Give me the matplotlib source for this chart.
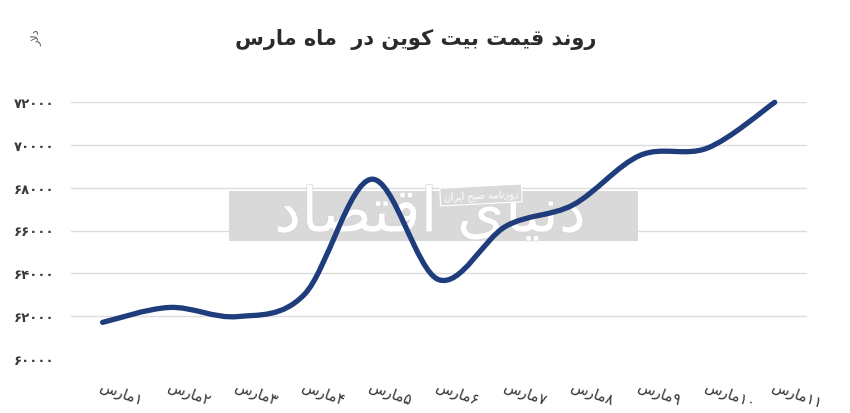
import re
import matplotlib
matplotlib.use('Agg')
import matplotlib.pyplot as plt
import matplotlib.patheffects as pe
from matplotlib.path import Path
from matplotlib.patches import PathPatch, Rectangle

# data
days = list(range(1, 12))
prices = [61700, 62400, 61970, 63000, 68400, 63700, 66200, 67200, 69520, 69860, 72000]
yticks = [60000, 62000, 64000, 66000, 68000, 70000, 72000]
title = 'روند قیمت بیت کوین در  ماه مارس'
unit = 'دلار'

# arabic letters have to be shaped by hand, matplotlib does not join them
FORMS = {
    'ا': ('\uFE8D', '\uFE8E', None, None),
    'ب': ('\uFE8F', '\uFE90', '\uFE91', '\uFE92'),
    'ت': ('\uFE95', '\uFE96', '\uFE97', '\uFE98'),
    'ح': ('\uFEA1', '\uFEA2', '\uFEA3', '\uFEA4'),
    'د': ('\uFEA9', '\uFEAA', None, None),
    'ر': ('\uFEAD', '\uFEAE', None, None),
    'ز': ('\uFEAF', '\uFEB0', None, None),
    'س': ('\uFEB1', '\uFEB2', '\uFEB3', '\uFEB4'),
    'ص': ('\uFEB9', '\uFEBA', '\uFEBB', '\uFEBC'),
    'ق': ('\uFED5', '\uFED6', '\uFED7', '\uFED8'),
    'ک': ('\uFB8E', '\uFB8F', '\uFB90', '\uFB91'),
    'ل': ('\uFEDD', '\uFEDE', '\uFEDF', '\uFEE0'),
    'م': ('\uFEE1', '\uFEE2', '\uFEE3', '\uFEE4'),
    'ن': ('\uFEE5', '\uFEE6', '\uFEE7', '\uFEE8'),
    'ه': ('\uFEE9', '\uFEEA', '\uFEEB', '\uFEEC'),
    'و': ('\uFEED', '\uFEEE', None, None),
    'ی': ('\uFBFC', '\uFBFD', '\uFEF3', '\uFEF4'),
}
FA_DIGITS = '۰۱۲۳۴۵۶۷۸۹'


def joins_left(c):
    return c in FORMS and FORMS[c][2] is not None


def fa(text):
    out = []
    i = 0
    while i < len(text):
        c = text[i]
        prev = text[i - 1] if i > 0 else ''
        nxt = text[i + 1] if i + 1 < len(text) else ''
        if c not in FORMS:
            out.append(c)
            i += 1
            continue
        pj = joins_left(prev)
        if c == 'ل' and nxt == 'ا':
            out.append('\uFEFC' if pj else '\uFEFB')
            i += 2
            continue
        nj = joins_left(c) and nxt in FORMS
        iso, fin, ini, med = FORMS[c]
        if pj and nj:
            out.append(med)
        elif pj:
            out.append(fin)
        elif nj:
            out.append(ini)
        else:
            out.append(iso)
        i += 1
    vis = ''.join(out)[::-1]
    return re.sub('[۰-۹0-9]+', lambda m: m.group()[::-1], vis)


def fa_num(n):
    return ''.join(FA_DIGITS[int(d)] for d in str(n))


plt.rcParams['font.family'] = ['DejaVu Sans']

fig = plt.figure(figsize=(8.5, 4.14), dpi=100)
ax = fig.add_axes([71 / 850, 1 - 359.7 / 414, (807 - 71) / 850, (359.7 - 103.3) / 414])

x = list(range(len(days)))

# smooth line like the excel one (catmull-rom as bezier)
pts = list(zip(x, prices))
verts = [pts[0]]
codes = [Path.MOVETO]
for k in range(len(pts) - 1):
    p0 = pts[k - 1] if k > 0 else pts[k]
    p1 = pts[k]
    p2 = pts[k + 1]
    p3 = pts[k + 2] if k + 2 < len(pts) else pts[k + 1]
    c1 = (p1[0] + (p2[0] - p0[0]) / 6, p1[1] + (p2[1] - p0[1]) / 6)
    c2 = (p2[0] - (p3[0] - p1[0]) / 6, p2[1] - (p3[1] - p1[1]) / 6)
    verts += [c1, c2, p2]
    codes += [Path.CURVE4] * 3
line = PathPatch(Path(verts, codes), fill=False, edgecolor='#1f3d7c', lw=3.8,
                 capstyle='round', joinstyle='round', zorder=3, clip_on=False)
ax.add_patch(line)

ax.set_xlim(-0.47, 10.48)
ax.set_ylim(60000, 72000)
ax.set_yticks(yticks)
ax.set_yticklabels([fa_num(v) for v in yticks], fontsize=9.5, color='#3a3a3a', fontweight='bold')
ax.set_xticks(x)
ax.set_xticklabels([fa(fa_num(d) + 'مارس') for d in days], fontsize=10.5, color='#333333',
                   rotation=-20, ha='left', va='top', rotation_mode='anchor')
ax.tick_params(axis='both', length=0)
ax.tick_params(axis='y', pad=12)
ax.tick_params(axis='x', pad=14)
ax.grid(axis='y', color='#dcdcdc', lw=1)
ax.get_ygridlines()[0].set_visible(False)
ax.set_axisbelow(True)
for s in ax.spines.values():
    s.set_visible(False)

# watermark, kept under the line
ax.add_patch(Rectangle((229 / 850, 1 - 242 / 414), 409 / 850, 50 / 414,
                       transform=fig.transFigure, facecolor='#d9d9d9',
                       edgecolor='none', zorder=1, clip_on=False))
ax.text(430 / 850, 1 - 216 / 414, fa('دنیای اقتصاد'), fontsize=44, color='white',
        ha='center', va='center', zorder=2, transform=fig.transFigure,
        path_effects=[pe.withStroke(linewidth=1.0, foreground='#d4d4d4')])
ax.text(481 / 850, 1 - 196 / 414, fa('روزنامه صبح ایران'), fontsize=7, color='white',
        ha='center', va='center', rotation=3, zorder=2, transform=fig.transFigure,
        bbox=dict(boxstyle='square,pad=0.35', facecolor='#d9d9d9', edgecolor='white', lw=0.8))

fig.text(416 / 850, 1 - 40 / 414, fa(title), fontsize=15, fontweight='bold',
         color='#2b2b2b', ha='center', va='center')
fig.text(36 / 850, 1 - 38 / 414, fa(unit), fontsize=8, color='#555555',
         rotation=90, ha='center', va='center')

fig.savefig('out.png', dpi=100)
